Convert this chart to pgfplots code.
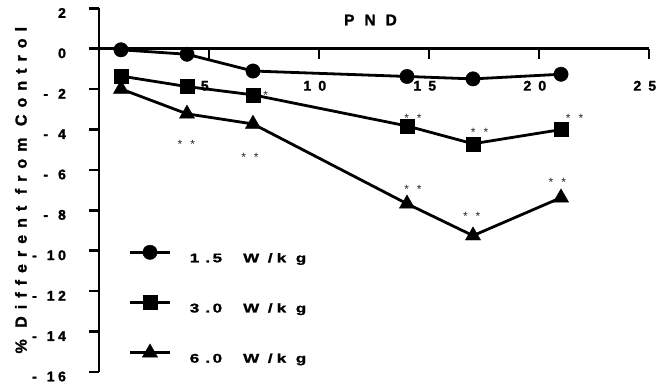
\documentclass[border=0pt]{standalone}
\usepackage{pgfplots}
\pgfplotsset{compat=1.18}
\usepackage{fontspec}
\setmainfont{Liberation Sans}
\newfontfamily\bfont{Liberation Sans Bold}[FakeBold=1.5]
\newfontfamily\ylfont{Liberation Sans Bold}[LetterSpace=44, FakeBold=1.5]
\newfontfamily\lgfont{Liberation Sans Bold}[FakeStretch=1.35, FakeBold=1.5]
\tikzset{st/.style={anchor=base, inner sep=0pt, font=\fontsize{12}{12}\selectfont, text=black!85}}
\newcommand{\stars}{*\hspace{8pt}*}
\newcommand{\leg}[2]{#1\kern6.2pt.\kern2.5pt#2\kern21.1pt W\kern8.6pt/\kern4.1pt k\kern9.7pt g}
\newcommand{\yl}[1]{\mbox{#1}}
\begin{document}
\begin{tikzpicture}
\useasboundingbox (-99pt,-16pt) rectangle (559pt,372pt);
\begin{axis}[
  at={(0pt,0pt)}, anchor=south west,
  scale only axis, width=550pt, height=363.6pt,
  xmin=0, xmax=25, ymin=-16, ymax=2,
  axis x line=middle, axis y line=left,
  axis line style={-, line width=2.6pt},
  every tick/.style={black, line width=2.6pt},
  major tick length=10pt,
  tick align=outside,
  xtick={5,10,15,20,25},
  xticklabels={\yl{5},\yl{1\kern7.1pt 0},\yl{1\kern7.1pt 5},\yl{2\kern7.1pt 0},\yl{2\kern7.1pt 5}},
  ytick={-16,-14,-12,-10,-8,-6,-4,-2,0,2},
  yticklabels={\yl{-\kern10pt 1\kern3.5pt 6},\yl{-\kern10pt 1\kern3.5pt 4},\yl{-\kern10pt 1\kern3.5pt 2},\yl{-\kern10pt 1\kern3.5pt 0},
    \yl{-\kern10pt 8},\yl{-\kern10pt 6},\yl{-\kern10pt 4},\yl{-\kern10pt 2},\yl{0},\yl{2}},
  tick label style={font=\bfont\fontsize{14}{16}\selectfont, inner sep=0pt},
  xticklabel style={anchor=center, yshift=-27pt, xshift=-4.2pt},
  yticklabel style={anchor=east, xshift=-22.9pt, yshift=-4.5pt},
  ylabel={\% Different from Control},
  ylabel style={at={(axis description cs:-0.142,0.5)}, anchor=center, inner sep=0pt, font=\ylfont\fontsize{16}{18}\selectfont},
  legend style={draw=none, fill=none, inner sep=0pt, outer sep=0pt, at={(axis cs:1.345,-9.577)}, anchor=north west,
    row sep=30.1pt, column sep=18.4pt, font=\lgfont\fontsize{12.6}{15}\selectfont,
    nodes={inner sep=0pt, text height=20pt, text depth=0.1pt}},
  legend cell align=left,
  legend image code/.code={\draw[mark repeat=2,mark phase=2,#1] plot coordinates {(0pt,0pt) (20pt,0pt) (40pt,0pt)};},
  clip=false,
]
\node[anchor=center, inner sep=0pt, font=\bfont\fontsize{15.5}{17}\selectfont] at (axis cs:12.34,1.426) {P\kern10pt N\kern10pt D};
\node[st] at (axis cs:7.29,-2.51) {\stars};
\node[st] at (axis cs:3.97,-4.96) {\stars};
\node[st] at (axis cs:6.86,-5.57) {\stars};
\node[st] at (axis cs:14.27,-3.64) {\stars};
\node[st] at (axis cs:17.3,-4.36) {\stars};
\node[st] at (axis cs:21.62,-3.64) {\stars};
\node[st] at (axis cs:14.27,-7.17) {\stars};
\node[st] at (axis cs:16.94,-8.49) {\stars};
\node[st] at (axis cs:20.83,-6.81) {\stars};

\addplot[black, line width=2.8pt, mark=*, mark size=7.2pt, mark options={line width=0.4pt}]
  coordinates {(1,-0.05)(4,-0.27)(7,-1.1)(14,-1.37)(17,-1.49)(21,-1.26)};
\addlegendentry{\leg{1}{5}}
\addplot[black, line width=2.8pt, mark=square*, mark size=7pt, mark options={line width=0.4pt}]
  coordinates {(1,-1.35)(4,-1.87)(7,-2.28)(14,-3.82)(17,-4.70)(21,-4.0)};
\addlegendentry{\leg{3}{0}}
\addplot[black, line width=2.8pt, mark=triangle*, mark size=8.8pt, mark options={line width=0.4pt}]
  coordinates {(1,-1.99)(4,-3.22)(7,-3.72)(14,-7.67)(17,-9.25)(21,-7.37)};
\addlegendentry{\leg{6}{0}}
\end{axis}
\end{tikzpicture}
\end{document}
